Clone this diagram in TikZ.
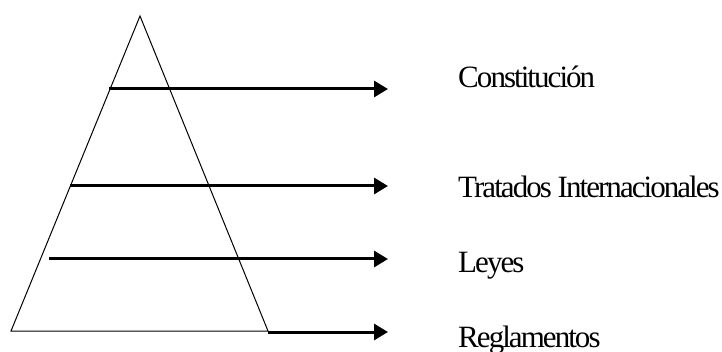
\documentclass[tikz,border=0pt]{standalone}
\usepackage{fontspec}
\setmainfont{Liberation Serif}
\newfontfamily\tightserif[LetterSpace=-6.3]{Liberation Serif}
\usetikzlibrary{arrows.meta}
\tikzset{
  tri/.style={line width=1pt, line join=miter},
  levelarrow/.style={line width=3pt, -{Triangle[length=14pt,width=16pt]}},
  lbl/.style={anchor=base west, inner sep=0pt, font=\tightserif\fontsize{31}{36}\selectfont}
}
\begin{document}
\begin{tikzpicture}[x=1pt,y=-1pt]
\useasboundingbox (0,0) rectangle (722,352);
% pyramid
\coordinate (apex) at (140,16);
\coordinate (bl) at (11,331);
\coordinate (br) at (268,331);
\draw[tri] (apex) -- (bl) -- (br) -- cycle;
% arrow start / end points
\coordinate (s1) at (109,89);
\coordinate (e1) at (388,89);
\coordinate (s2) at (70,186);
\coordinate (e2) at (388,186);
\coordinate (s3) at (49,259);
\coordinate (e3) at (388,259);
\coordinate (s4) at (268,332);
\coordinate (e4) at (388,332);
\draw[levelarrow] (s1) -- (e1);
\draw[levelarrow] (s2) -- (e2);
\draw[levelarrow] (s3) -- (e3);
\draw[levelarrow] (s4) -- (e4);
% labels
\node[lbl] (t1) at (458,88) {Constitución};
\node[lbl] (t2) at (458,198) {Tratados Internacionales};
\node[lbl] (t3) at (458,273) {Leyes};
\node[lbl] (t4) at (458,347) {Reglamentos};
\end{tikzpicture}
\end{document}
